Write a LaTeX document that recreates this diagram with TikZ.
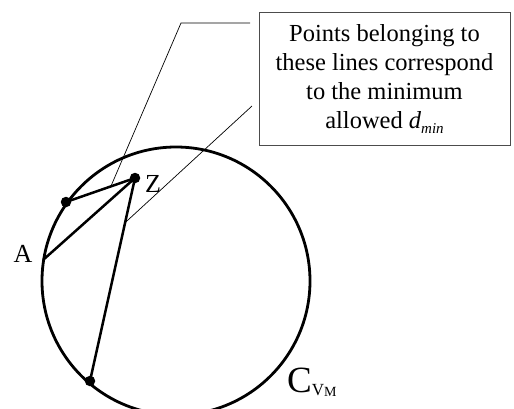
\documentclass[tikz,border=0pt]{standalone}
\usepackage{fontspec}
\setmainfont{Liberation Serif}
\usetikzlibrary{calc}
\begin{document}
\begin{tikzpicture}[x=1pt,y=-1pt,
    seg/.style={line width=2.5pt},
    leader/.style={line width=0.7pt},
    dot/.style={circle, fill, inner sep=0pt, minimum size=10.5pt}]
    \useasboundingbox (0,0) rectangle (514,408);
    \clip (0,0) rectangle (514,408);

    % circle C_VM
    \coordinate (O) at (176,281);
    \draw[line width=2.8pt] (O) circle[radius=134pt];

    \coordinate (A) at (43,260);
    \node[dot] (P) at (66,202) {};
    \node[dot] (Z) at (135,178) {};
    \node[dot] (Q) at (90,381) {};

    \draw[seg] (A) -- (Z.center);
    \draw[seg] (P.center) -- (Z.center) -- (Q.center);

    \node[font=\fontsize{26}{30}\selectfont] (labA) at (23,254) {A};
    \node[font=\fontsize{26}{30}\selectfont] (labZ) at (153,184) {Z};
    \node[font=\fontsize{37}{42}\selectfont, anchor=base west, inner sep=0pt] (labC) at (287,392)
        {C\raisebox{-3pt}{\fontsize{17}{19}\selectfont V\raisebox{-1pt}{\fontsize{14}{15}\selectfont M}}};

    % the box and its leaders
    \node[draw=black!70, line width=0.9pt, minimum width=251pt, minimum height=133pt,
        align=center, font=\fontsize{24.5}{29}\selectfont] (box) at (384.5,78.5)
        {Points belonging to\\these lines correspond\\to the minimum\\allowed
        \textit{d}\raisebox{-5pt}{\fontsize{15}{16}\selectfont\itshape min}};

    \coordinate (L1) at ($(P)!0.65!(Z)$);
    \coordinate (L2) at ($(Z)!0.22!(Q)$);
    \draw[leader] (L1) -- (181,23) -- (250,23);
    \draw[leader] (L2) -- (252,106);
\end{tikzpicture}
\end{document}
